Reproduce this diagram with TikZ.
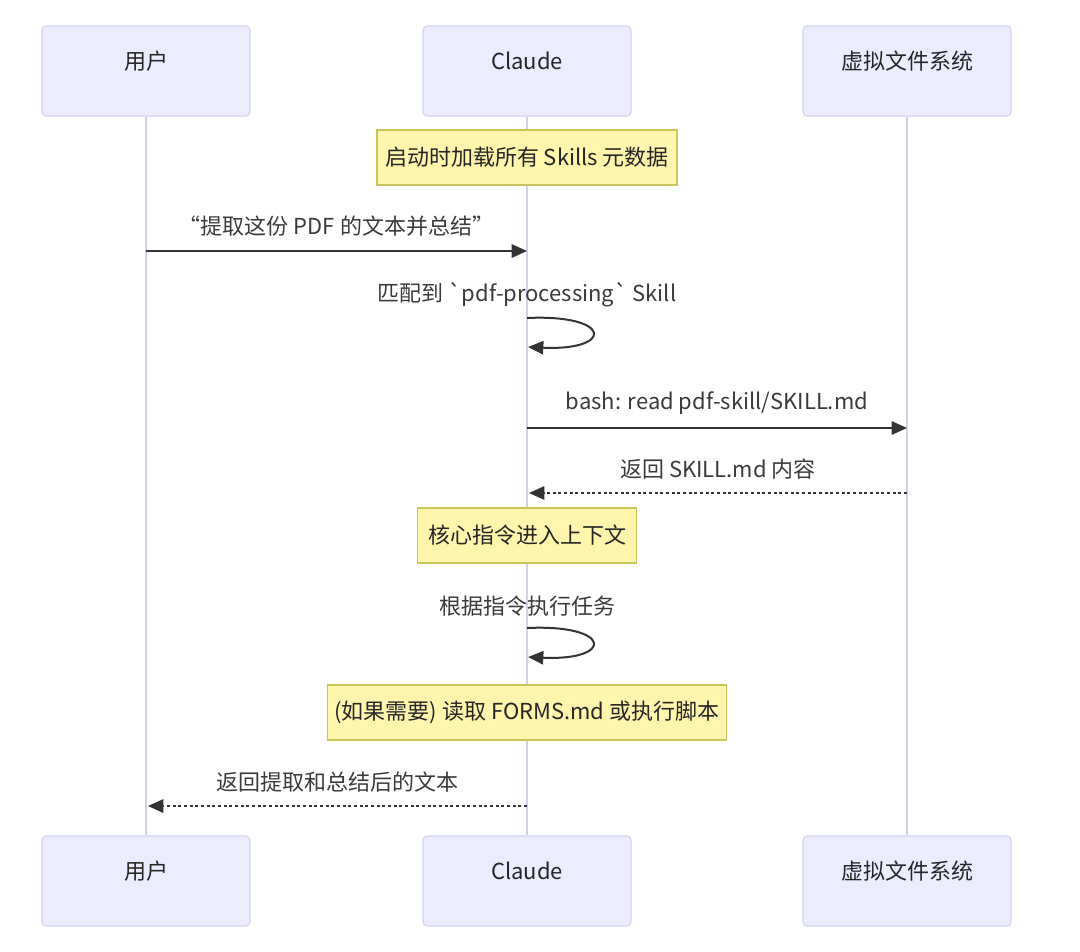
\documentclass[tikz,border=0pt]{standalone}
\usepackage{fontspec}
\setmainfont{Noto Sans CJK SC}[Ligatures=TeXOff]
\usetikzlibrary{arrows.meta,calc}
\definecolor{actorfill}{HTML}{ECECFF}
\definecolor{actorline}{HTML}{D6D2F2}
\definecolor{lifeline}{HTML}{D3CFEE}
\definecolor{notefill}{HTML}{FFF5AD}
\definecolor{noteline}{HTML}{C8C65A}
\definecolor{msgline}{HTML}{333333}
\definecolor{msgtext}{HTML}{3A3A3A}

\begin{document}
\begin{tikzpicture}[x=0.75pt,y=-0.75pt,
    actor/.style={draw=actorline,fill=actorfill,line width=0.8pt,rounded corners=3pt,
      minimum width=156pt,minimum height=67.5pt,text height=12pt,text depth=14pt,
      font=\fontsize{16.5}{19}\selectfont,text=black!85},
    note/.style={draw=noteline,fill=notefill,line width=0.8pt,minimum height=41.25pt,
      font=\fontsize{16.5}{19}\selectfont,text=black!85},
    lbl/.style={font=\fontsize{16.5}{19}\selectfont,text=msgtext},
    life/.style={draw=lifeline,line width=1.1pt},
    msg/.style={draw=msgline,line width=1.5pt,-{Triangle[length=11.5pt,width=10pt]}},
    reply/.style={msg,dash pattern=on 2.25pt off 2pt}]
  \useasboundingbox (0,0) rectangle (1080,951);

  % participants, top and bottom, with their lifelines
  \foreach \name/\x/\txt in {user/146/用户,claude/527/Claude,vfs/907/虚拟文件系统} {
    \node[actor] (\name-top) at (\x,71) {\txt};
    \node[actor] (\name-bot) at (\x,881) {\txt};
    \draw[life] (\name-top) -- (\name-bot);
  }

  \node[note,minimum width=225pt] (load) at (527,157.5) {启动时加载所有 Skills 元数据};

  % user asks Claude
  \coordinate (m1) at (0,251);
  \draw[msg] (user-top |- m1) -- node[lbl,yshift=19pt] {“提取这份 PDF 的文本并总结”} (claude-top |- m1);

  % Claude matches the skill
  \coordinate (s1) at (claude-top |- 0,318);
  \node[lbl] (match) at ([yshift=17.25pt]s1) {匹配到 `pdf-processing` Skill};
  \draw[msg] (s1) .. controls +(86,-4) and +(86,4) .. ($(s1)+(1,29)$);

  % read the skill file
  \coordinate (m3) at (0,428);
  \draw[msg] (claude-top |- m3) -- node[lbl,yshift=19pt] {bash: read pdf-skill/SKILL.md} (vfs-top |- m3);
  \coordinate (m4) at (0,493);
  \draw[reply] (vfs-top |- m4) -- node[lbl,yshift=18pt] {返回 SKILL.md 内容} ($(claude-top |- m4)+(2,0)$);

  \node[note,minimum width=164pt] (ctx) at (527,535.5) {核心指令进入上下文};

  % Claude works through the task
  \coordinate (s2) at (claude-top |- 0,628);
  \node[lbl] (task) at ([yshift=16.5pt]s2) {根据指令执行任务};
  \draw[msg] (s2) .. controls +(86,-4) and +(86,4) .. ($(s2)+(1,29)$);

  \node[note,minimum width=299pt] (forms) at (527,712.5) {(如果需要) 读取 FORMS.md 或执行脚本};

  % answer back to the user
  \coordinate (m5) at (0,806);
  \draw[reply] (claude-top |- m5) -- node[lbl,yshift=18pt] {返回提取和总结后的文本} ($(user-top |- m5)+(2,0)$);
\end{tikzpicture}
\end{document}
